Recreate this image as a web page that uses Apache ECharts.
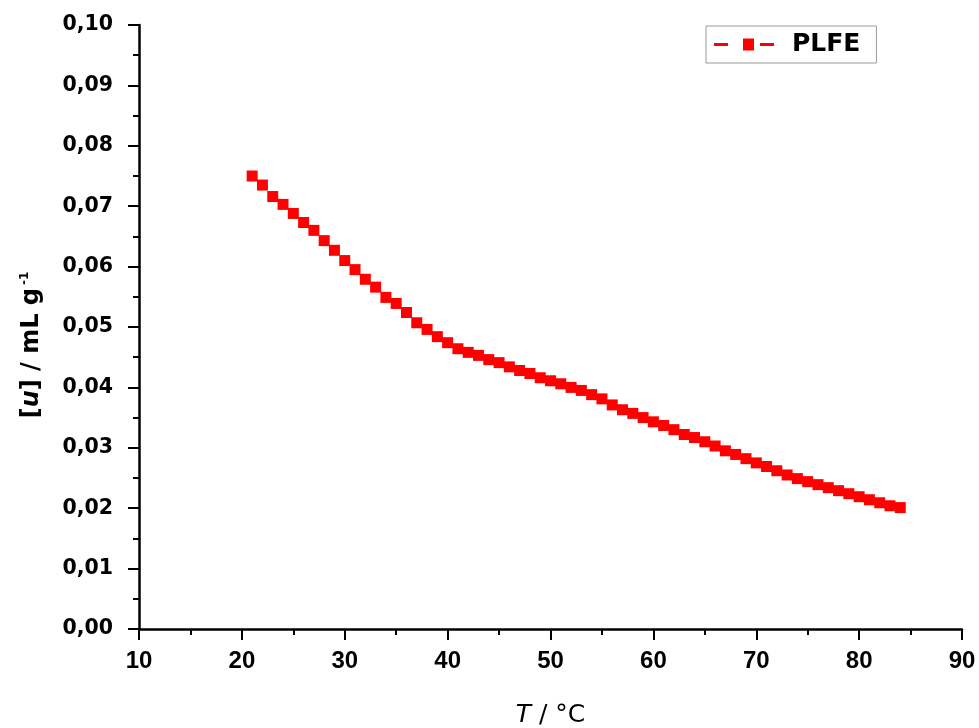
<!DOCTYPE html>
<html>
<head>
<meta charset="utf-8">
<script src="https://cdn.jsdelivr.net/npm/echarts@6/dist/echarts.min.js"></script>
<style>html,body{margin:0;padding:0;background:#fff}#c{width:979px;height:728px}</style>
</head>
<body>
<div id="c"></div>
<script>
var temperatures = [21,22,23,24,25,26,27,28,29,30,31,32,33,34,35,36,37,38,39,40,41,42,43,44,45,46,47,48,49,50,51,52,53,54,55,56,57,58,59,60,61,62,63,64,65,66,67,68,69,70,71,72,73,74,75,76,77,78,79,80,81,82,83,84];
var viscosity = [0.0750,0.0735,0.0716,0.0703,0.0688,0.0673,0.0660,0.0643,0.0627,0.0610,0.0595,0.0579,0.0566,0.0549,0.0539,0.0524,0.0507,0.0496,0.0484,0.0474,0.0464,0.0458,0.0453,0.0446,0.0441,0.0434,0.0428,0.0423,0.0416,0.0411,0.0406,0.0400,0.0395,0.0388,0.0381,0.0371,0.0363,0.0357,0.0350,0.0343,0.0337,0.0330,0.0322,0.0317,0.0310,0.0303,0.0295,0.0289,0.0282,0.0275,0.0269,0.0262,0.0255,0.0249,0.0244,0.0239,0.0234,0.0229,0.0224,0.0219,0.0214,0.0209,0.0204,0.0201];
var seriesName = 'PLFE';
var xTicks = [10,20,30,40,50,60,70,80,90];
var yTicks = [0,0.01,0.02,0.03,0.04,0.05,0.06,0.07,0.08,0.09,0.10];

var data = temperatures.map(function(t,i){return [t, viscosity[i]];});
var chart = echarts.init(document.getElementById('c'), null, {renderer:'canvas'});
chart.setOption({
  animation:false,
  backgroundColor:'#fff',
  grid:{left:139, right:17, top:25, bottom:99, containLabel:false, outerBoundsMode:'none'},
  legend:{
    left:706, top:26,
    data:[{name:seriesName, icon:'path://M0,4.5 H14 V7.5 H0 Z M29,0 H40 V12 H29 Z M46,4.5 H60 V7.5 H46 Z'}],
    itemWidth:60, itemHeight:12,
    borderColor:'#999', borderWidth:1,
    padding:[6,16,6,8],
    textStyle:{fontFamily:'DejaVu Sans', fontWeight:'bold', fontSize:25, color:'#000', padding:[0,0,0,13]}
  },
  xAxis:{
    type:'value', min:xTicks[0], max:xTicks[xTicks.length-1], interval:10,
    axisLine:{show:true, onZero:false, lineStyle:{color:'#000', width:2.5}},
    axisTick:{show:true, inside:false, length:11, lineStyle:{color:'#000', width:2}},
    minorTick:{show:true, splitNumber:2, length:6, lineStyle:{color:'#000', width:2}},
    splitLine:{show:false},
    axisLabel:{color:'#000', fontFamily:'Liberation Sans, Arial', fontWeight:'bold', fontSize:24, margin:20},
    name:'{it|T} / °C', nameLocation:'middle', nameGap:74,
    nameTextStyle:{color:'#000', fontFamily:'DejaVu Sans', fontWeight:'normal', fontSize:25,
      rich:{it:{fontStyle:'italic', fontWeight:'normal', fontSize:25, fontFamily:'DejaVu Sans', color:'#000'}}}
  },
  yAxis:{
    type:'value', min:yTicks[0], max:yTicks[yTicks.length-1], interval:0.01,
    axisLine:{show:true, onZero:false, lineStyle:{color:'#000', width:2.5}},
    axisTick:{show:true, inside:false, length:11, lineStyle:{color:'#000', width:2}},
    minorTick:{show:true, splitNumber:2, length:6, lineStyle:{color:'#000', width:2}},
    splitLine:{show:false},
    axisLabel:{color:'#000', fontFamily:'DejaVu Sans', fontWeight:'bold', fontSize:20.5, margin:26,
      formatter:function(v){return v.toFixed(2).replace('.', ',');}},
    name:'[{it|u}] / mL g{sup|-1}', nameLocation:'middle', nameGap:94, nameRotate:90,
    nameTextStyle:{color:'#000', fontFamily:'DejaVu Sans', fontWeight:'bold', fontSize:24, padding:[0,36,0,0],
      rich:{
        it:{fontStyle:'italic', fontWeight:'bold', fontSize:24, fontFamily:'DejaVu Sans', color:'#000'},
        sup:{fontWeight:'bold', fontSize:12, fontFamily:'DejaVu Sans', color:'#000', padding:[0,0,14,3]}
      }}
  },
  series:[{
    name:seriesName, type:'scatter', data:data,
    symbol:'rect', symbolSize:11,
    itemStyle:{color:'#ff0000', opacity:1}
  }]
});
</script>
</body>
</html>
